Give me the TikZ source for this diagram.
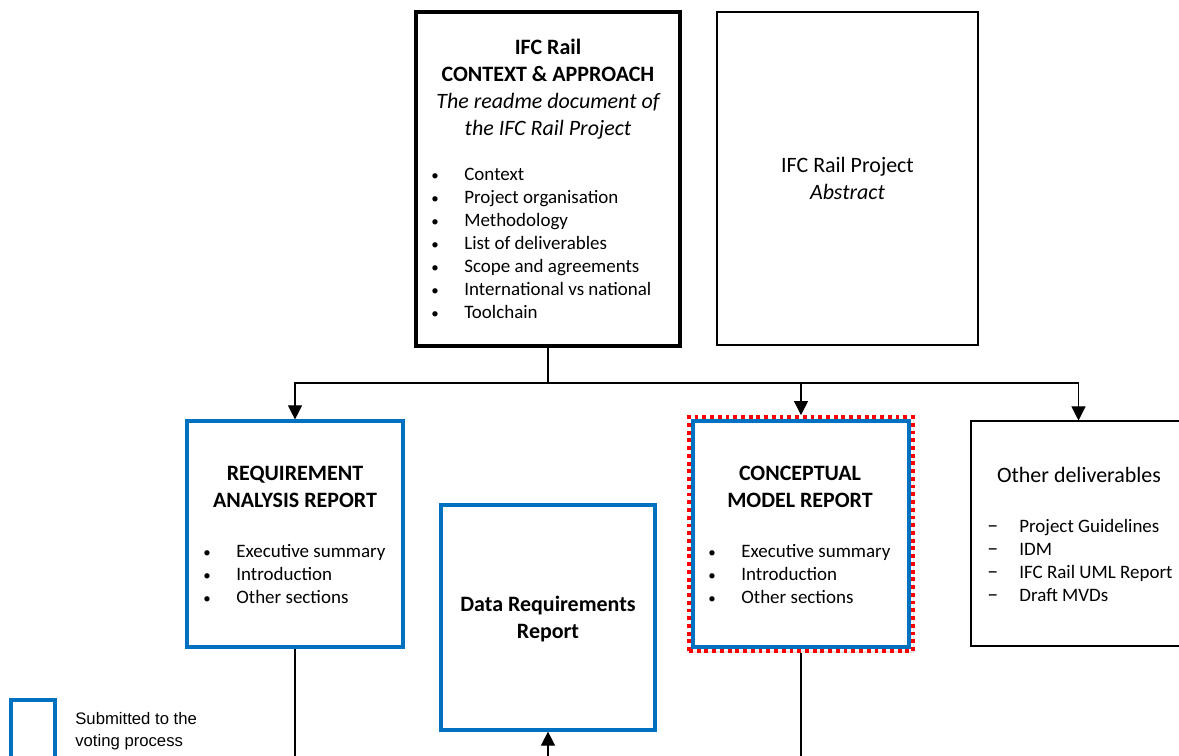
\documentclass[tikz,border=0pt]{standalone}
\usepackage{fontspec}
\setmainfont{Carlito}
\newfontfamily\legendfont{Liberation Sans}
\usetikzlibrary{arrows.meta, fit, shadows}
\definecolor{voteblue}{HTML}{0070C0}
\newcommand{\bodysize}{\fontsize{10.8pt}{13.1pt}\selectfont}
\newcommand{\headsize}{\fontsize{12.5pt}{15.4pt}\selectfont}
\newcommand{\bul}[1]{\makebox[0.66cm][l]{\fontsize{8.5pt}{8.5pt}\selectfont\textbullet}#1}
\newcommand{\dsh}[1]{\makebox[0.64cm][l]{\fontsize{12.5pt}{12.5pt}\selectfont--}#1}

\begin{document}
\begin{tikzpicture}[x=0.02cm, y=-0.02cm,
    box/.style={draw, inner sep=0pt, line width=0.6pt},
    readme/.style={box, line width=1.8pt},
    voted/.style={box, draw=voteblue, line width=1.8pt},
    review/.style={draw=red, fill=white, line width=2.2pt, dash pattern=on 2.2pt off 2.2pt, inner sep=0pt,
        drop shadow={opacity=0.2, shadow xshift=0.8pt, shadow yshift=-1.4pt}},
    head/.style={font=\headsize\bfseries, align=center},
    body/.style={font=\bodysize, align=left, anchor=west, inner sep=0pt},
    link/.style={line width=0.6pt},
    tip/.style={link, -{Triangle[width=8pt,length=8pt]}}
]
\useasboundingbox (0,0) rectangle (1179,755);
\clip (0,0) rectangle (1179,755);

% Readme and abstract
\node[readme, fit={(416,12) (680,346)}] (ctx) {};
\node[head] at (548,89) {IFC Rail\\CONTEXT \& APPROACH\\\mdseries\itshape The readme document of\\\mdseries\itshape the IFC Rail Project};
\node[body] at (431,243) {\bul{Context}\\\bul{Project organisation}\\\bul{Methodology}\\\bul{List of deliverables}\\\bul{Scope and agreements}\\\bul{International vs national}\\\bul{Toolchain}};

\node[box, fit={(717,12) (978,345)}] (abs) {};
\node[font=\headsize, align=center] at (abs.center) {IFC Rail Project\\\itshape Abstract};

% Deliverables
\node[voted, fit={(187,421) (403,647)}] (req) {};
\node[head] at (295,486.5) {REQUIREMENT\\ANALYSIS REPORT};
\node[body] at (203,574) {\bul{Executive summary}\\\bul{Introduction}\\\bul{Other sections}};

\node[voted, fit={(441,505) (655,730)}] (data) {};
\node[head] at (548,619) {Data Requirements\\Report};

\node[review, fit={(689,417) (913,651)}] (cmr) {};
\node[voted, fit={(693,421) (909,647)}] (cm) {};
\node[head] at (800,486.5) {CONCEPTUAL\\MODEL REPORT};
\node[body] at (708,574) {\bul{Executive summary}\\\bul{Introduction}\\\bul{Other sections}};

\node[box, fit={(971,421) (1186,646)}] (other) {};
\node[font=\headsize] at (1079,475) {Other deliverables};
\node[body] at (987,560.5) {\dsh{Project Guidelines}\\\dsh{IDM}\\\dsh{IFC Rail UML Report}\\\dsh{Draft MVDs}};

% Legend
\node[voted, fit={(11,700) (55,780)}] (key) {};
\node[font={\legendfont\fontsize{9.5pt}{12.5pt}\selectfont}, align=left, anchor=west, inner sep=0pt] at (75,731) {Submitted to the\\voting process};

% Connectors
\coordinate (split) at (548,383);
\coordinate (reqout) at (295,770);
\coordinate (dataout) at (548,770);
\coordinate (cmout) at (801,770);
\draw[link] (ctx.south) -- (split);
\draw[tip] (split) -| (req.north);
\draw[tip] (split) -| (cmr.north);
\draw[tip] (split) -| (other.north);
\draw[link] (req.south) -- (reqout);
\draw[link] (cmr.south) -- (cmout);
\draw[tip] (dataout) -- (data.south);
\end{tikzpicture}
\end{document}
